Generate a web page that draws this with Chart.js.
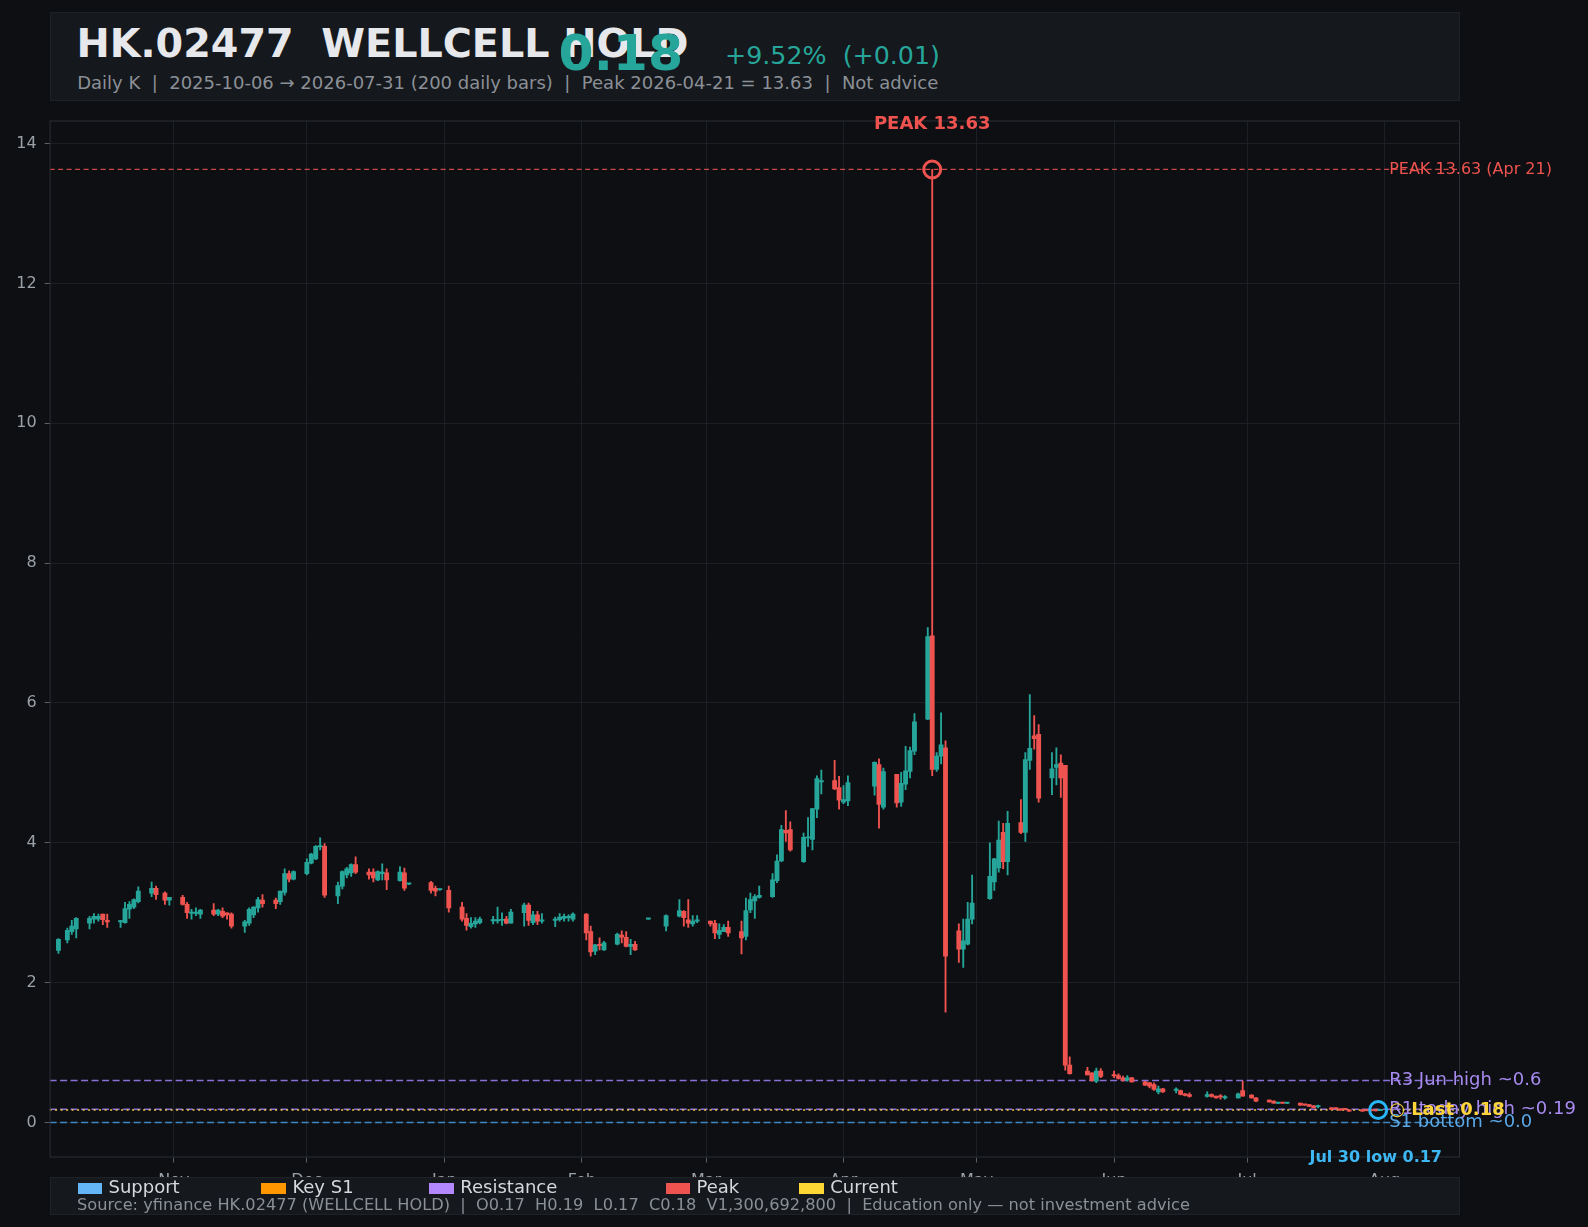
<!DOCTYPE html>
<html>
<head>
<meta charset="utf-8">
<script src="https://cdn.jsdelivr.net/npm/chart.js@4.4.1/dist/chart.umd.min.js"></script>
<style>
  html, body { margin:0; padding:0; background:#0d0f12; }
  body { width:1588px; height:1227px; position:relative; overflow:hidden; font-family:'DejaVu Sans', sans-serif; }
  #c { position:absolute; left:0; top:0; }
  .box { position:absolute; background:#15181c; border:1px solid #1f2328; box-sizing:border-box; }
  .t { position:absolute; white-space:pre; line-height:1; font-family:'DejaVu Sans', sans-serif; }
  .sw { position:absolute; width:24.5px; height:11px; }
</style>
</head>
<body>
<canvas id="c" width="1588" height="1227"></canvas>

<div class="box" style="left:49.6px; top:12.2px; width:1410.4px; height:89.1px;"></div>
<div class="t" style="left:76.5px; top:23.6px; font-size:39.7px; font-weight:bold; color:#e6e8eb;">HK.02477  WELLCELL HOLD</div>
<div class="t" style="left:558.5px; top:28.2px; font-size:50.5px; font-weight:bold; color:#26a69a;">0.18</div>
<div class="t" style="left:725px; top:43.4px; font-size:25.3px; color:#26a69a;">+9.52%  (+0.01)</div>
<div class="t" style="left:77.2px; top:74.1px; font-size:18px; color:#8b9097;">Daily K  |  2025-10-06 → 2026-07-31 (200 daily bars)  |  Peak 2026-04-21 = 13.63  |  Not advice</div>

<div class="box" style="left:49.6px; top:1177px; width:1410.4px; height:38px;"></div>
<div id="legend"></div>
<div class="t" style="left:77px; top:1197.4px; font-size:16.2px; color:#8b9097;">Source: yfinance HK.02477 (WELLCELL HOLD)  |  O0.17  H0.19  L0.17  C0.18  V1,300,692,800  |  Education only — not investment advice</div>

<script>
// ---------------- DATA ----------------
// trading days per month
const monthDays = [
  ["2025-10", [6,8,9,10,13,14,15,16,17,20,21,22,23,24,27,28,30,31]],
  ["2025-11", [3,4,5,6,7,10,11,12,13,14,17,18,19,20,21,24,25,26,27,28]],
  ["2025-12", [1,2,3,4,5,8,9,10,11,12,15,16,17,18,19,22,23,24,29,30,31]],
  ["2026-01", [2,5,6,7,8,9,12,13,14,15,16,19,20,21,22,23,26,27,28,29,30]],
  ["2026-02", [2,3,4,5,6,9,10,11,12,13,16,20,23,24,25,26,27]],
  ["2026-03", [2,3,4,5,6,9,10,11,12,13,16,17,18,19,20,23,24,25,26,27,30,31]],
  ["2026-04", [1,2,8,9,10,13,14,15,16,17,20,21,22,23,24,27,28,29,30]],
  ["2026-05", [4,5,6,7,8,11,12,13,14,15,18,19,20,21,22,26,27,28,29]],
  ["2026-06", [1,2,3,4,5,8,9,10,11,12,15,16,17,18,22,23,24,25,26,29,30]],
  ["2026-07", [2,3,6,7,8,9,10,13,14,15,16,17,20,21,22,23,24,27,28,29,30,31]]
];
const dates = monthDays.flatMap(([m, ds]) => ds.map(d => m + "-" + String(d).padStart(2, "0")));

const opens = [
  2.46,2.61,2.73,2.77,2.85,2.91,2.91,2.98,2.89,2.87,2.86,3.05,3.08,3.16,3.28,3.35,3.28,3.18,
  3.22,3.12,2.99,2.99,2.98,3.04,2.98,3.02,3.00,2.98,2.81,2.85,2.97,3.07,3.18,3.18,3.16,3.29,3.56,3.48,
  3.56,3.71,3.77,3.94,3.95,3.24,3.38,3.54,3.57,3.69,3.58,3.58,3.47,3.56,3.57,3.46,3.57,3.41,3.43,3.35,3.33,
  3.32,3.08,2.92,2.80,2.84,2.86,2.885,2.885,2.89,2.91,2.85,3.00,3.11,2.86,2.97,2.88,2.89,2.90,2.92,2.93,2.91,
  2.98,2.73,2.45,2.54,2.47,2.55,2.68,2.65,2.52,2.55,2.91,2.81,2.95,3.02,2.90,2.84,2.88,
  2.88,2.85,2.69,2.73,2.79,2.73,2.66,3.04,3.17,3.22,3.23,3.46,3.74,4.18,4.19,3.73,4.07,4.05,4.48,4.87,4.89,4.79,
  4.58,4.60,4.81,5.12,4.51,4.98,4.58,4.84,5.02,5.31,5.77,6.96,5.05,5.24,5.36,2.74,2.48,2.55,2.91,
  3.20,3.44,3.64,4.15,3.73,4.29,4.15,5.18,5.53,5.55,4.93,5.08,5.14,5.11,0.82,0.735,0.71,0.59,0.735,
  0.687,0.673,0.639,0.606,0.639,0.582,0.568,0.544,0.439,0.482,0.46,0.458,0.41,0.401,0.373,0.401,0.377,0.372,0.353,0.353,0.458,
  0.391,0.353,0.32,0.306,0.275,0.28,0.274,0.277,0.258,0.258,0.24,0.226,0.21,0.203,0.196,0.19,0.177,0.18,0.172,0.172,0.172,0.17
];
const highs = [
  2.63,2.78,2.89,2.93,2.95,2.99,2.98,2.98,2.98,2.89,3.15,3.16,3.20,3.37,3.44,3.38,3.30,3.22,
  3.25,3.15,3.05,3.07,3.05,3.13,3.05,3.07,3.00,3.00,2.89,3.07,3.09,3.22,3.26,3.21,3.31,3.63,3.60,3.60,
  3.77,3.85,3.96,4.07,3.99,3.44,3.60,3.65,3.70,3.80,3.63,3.63,3.60,3.70,3.63,3.66,3.64,3.42,3.45,3.38,3.34,
  3.38,3.15,2.99,2.93,2.93,2.94,2.95,3.08,3.00,2.95,3.05,3.14,3.14,3.02,3.02,2.99,2.94,2.99,2.98,2.97,3.00,
  2.99,2.81,2.55,2.64,2.59,2.71,2.74,2.73,2.62,2.59,2.92,2.97,3.19,3.03,3.19,2.96,2.96,
  2.88,2.89,2.84,2.83,2.88,2.88,3.21,3.28,3.26,3.38,3.56,3.83,4.25,4.46,4.30,4.14,4.36,4.49,4.96,5.04,5.18,4.95,
  4.82,4.96,5.16,5.20,5.07,4.98,5.01,5.38,5.37,5.85,7.08,13.63,5.29,5.86,5.46,2.84,2.91,3.15,3.54,
  4.00,3.78,4.31,4.28,4.45,4.62,5.29,6.12,5.82,5.69,5.29,5.36,5.26,5.11,0.94,0.79,0.71,0.78,0.77,
  0.735,0.696,0.663,0.673,0.645,0.59,0.575,0.568,0.52,0.49,0.496,0.465,0.415,0.425,0.439,0.41,0.38,0.401,0.387,0.42,0.592,
  0.40,0.356,0.325,0.31,0.285,0.285,0.282,0.28,0.262,0.26,0.245,0.248,0.215,0.206,0.2,0.193,0.18,0.185,0.178,0.175,0.175,0.19
];
const lows = [
  2.42,2.57,2.69,2.64,2.77,2.85,2.88,2.83,2.79,2.79,2.85,2.92,3.06,3.14,3.23,3.19,3.12,3.11,
  3.11,2.92,2.91,2.96,2.92,2.96,2.96,2.93,2.91,2.78,2.72,2.82,2.93,3.01,3.08,3.06,3.12,3.25,3.44,3.47,
  3.54,3.70,3.76,3.90,3.22,3.13,3.34,3.50,3.52,3.56,3.48,3.44,3.46,3.47,3.33,3.45,3.32,3.40,3.28,3.24,3.32,
  3.01,2.88,2.75,2.78,2.79,2.84,2.84,2.85,2.82,2.84,2.85,2.81,2.82,2.83,2.83,2.85,2.80,2.88,2.88,2.88,2.88,
  2.61,2.38,2.40,2.47,2.46,2.54,2.57,2.51,2.40,2.46,2.905,2.74,2.94,2.81,2.79,2.81,2.86,
  2.81,2.63,2.63,2.73,2.66,2.41,2.61,3.00,2.92,3.21,3.22,3.43,3.73,4.02,3.88,3.72,3.95,3.90,4.36,4.70,4.76,4.48,
  4.56,4.53,4.68,4.21,4.48,4.51,4.52,4.76,4.93,5.26,5.76,4.96,5.02,5.13,1.58,2.29,2.22,2.54,2.84,
  3.19,3.32,3.58,3.63,3.54,4.13,4.02,5.05,5.34,4.58,4.69,4.83,4.65,0.75,0.69,0.68,0.59,0.57,0.64,
  0.64,0.62,0.59,0.59,0.578,0.53,0.496,0.458,0.41,0.43,0.425,0.395,0.38,0.363,0.363,0.363,0.35,0.334,0.334,0.35,0.377,
  0.35,0.30,0.29,0.275,0.27,0.27,0.27,0.245,0.245,0.228,0.208,0.21,0.185,0.19,0.175,0.18,0.16,0.16,0.165,0.165,0.166,0.17
];
const closes = [
  2.62,2.75,2.81,2.92,2.92,2.95,2.95,2.90,2.87,2.88,3.06,3.12,3.19,3.31,3.35,3.26,3.18,3.22,
  3.12,3.00,3.01,3.01,3.04,2.98,3.04,2.95,2.97,2.81,2.87,3.05,3.08,3.19,3.13,3.13,3.31,3.56,3.48,3.59,
  3.72,3.84,3.95,3.96,3.25,3.39,3.59,3.63,3.69,3.58,3.54,3.50,3.59,3.58,3.47,3.58,3.35,3.415,3.32,3.31,3.34,
  3.07,2.91,2.82,2.85,2.88,2.91,2.895,2.895,2.90,2.85,3.01,3.11,2.89,2.97,2.88,2.89,2.91,2.94,2.95,2.94,2.98,
  2.71,2.44,2.54,2.53,2.57,2.69,2.65,2.52,2.55,2.47,2.915,2.96,3.03,2.93,2.85,2.88,2.90,
  2.84,2.71,2.75,2.79,2.71,2.64,3.03,3.19,3.23,3.25,3.47,3.74,4.19,4.14,3.90,4.08,4.08,4.49,4.92,4.89,4.77,4.61,
  4.62,4.86,5.15,4.55,5.02,4.57,4.85,5.03,5.32,5.73,6.95,5.05,5.24,5.40,2.38,2.48,2.60,2.91,3.14,
  3.52,3.77,4.04,3.73,4.28,4.15,5.19,5.35,5.49,4.64,5.06,5.12,4.93,0.82,0.70,0.68,0.60,0.735,0.66,
  0.668,0.63,0.606,0.639,0.582,0.534,0.52,0.472,0.482,0.439,0.465,0.401,0.387,0.373,0.401,0.373,0.353,0.366,0.368,0.41,0.377,
  0.353,0.306,0.296,0.277,0.282,0.276,0.279,0.248,0.25,0.23,0.21,0.232,0.187,0.197,0.177,0.185,0.163,0.163,0.168,0.168,0.166,0.18
];

// axis ticks
const monthTicks  = ["2025-11-01","2025-12-01","2026-01-01","2026-02-01","2026-03-01","2026-04-01","2026-05-01","2026-06-01","2026-07-01","2026-08-01"];
const monthLabels = ["Nov","Dec","Jan","Feb","Mar","Apr","May","Jun","Jul","Aug"];
const yTicks = [0, 2, 4, 6, 8, 10, 12, 14];

// horizontal levels
const levelValues = [13.63, 0.6, 0.19, 0.0, 0.18];
const levelLabels = ["PEAK 13.63 (Apr 21)", "R3 Jun high ~0.6", "R1 today high ~0.19", "S1 bottom ~0.0", "○ Last 0.18"];

// annotations
const peakLabel = "PEAK 13.63";
const lowNoteDate = "2026-07-30";
const lowNoteLabel = "Jul 30 low 0.17";

// legend
const legendNames = ["Support", "Key S1", "Resistance", "Peak", "Current"];

// ---------------- STYLES ----------------
const UP = '#26a69a', DOWN = '#ef5350';
const levelStyles = [
  { line: 'rgba(239,83,80,0.85)', w: 1.2, dash: [5, 3.5], text: '#ef5350', font: '16px "DejaVu Sans"' },
  { line: '#8a6fd8', w: 1.5, dash: [7, 3.5], text: '#a78bf0', font: '18px "DejaVu Sans"' },
  { line: '#8a6fd8', w: 1.5, dash: [7, 3.5], text: '#a78bf0', font: '18px "DejaVu Sans"' },
  { line: '#3f87c2', w: 1.5, dash: [7, 3.5], text: '#5aa8e6', font: '18px "DejaVu Sans"' },
  { line: '#f2c94c', w: 1.6, dash: [2, 3.5], text: '#fdd43a', font: 'bold 18px "DejaVu Sans"' }
];
const legendX = [77.5, 261.4, 429.3, 665.5, 799.3];
const legendColors = ['#64b5f6', '#ff9800', '#b388ff', '#ef5350', '#fdd835'];

// legend html
const lg = document.getElementById('legend');
legendNames.forEach((n, i) => {
  const sw = document.createElement('div');
  sw.className = 'sw';
  sw.style.left = legendX[i] + 'px'; sw.style.top = '1182.5px'; sw.style.background = legendColors[i];
  lg.appendChild(sw);
  const t = document.createElement('div');
  t.className = 't';
  t.style.left = (legendX[i] + 31) + 'px'; t.style.top = '1178.3px';
  t.style.fontSize = '18px'; t.style.color = '#d6d9dd';
  t.textContent = n;
  lg.appendChild(t);
});

// ---------------- CHART ----------------
const T0 = Date.UTC(2025, 10, 1);
function dayNum(s) {
  const [y, m, d] = s.split('-').map(Number);
  return (Date.UTC(y, m - 1, d) - T0) / 86400000;
}
const xs = dates.map(dayNum);
const colors = dates.map((_, i) => closes[i] >= opens[i] ? UP : DOWN);

Chart.defaults.font.family = "'DejaVu Sans', sans-serif";

const overlay = {
  id: 'overlay',
  beforeDatasetsDraw(chart) {
    const { ctx, chartArea: a, scales: { y } } = chart;
    ctx.save();
    ctx.beginPath();
    ctx.rect(a.left, a.top, a.right - a.left, a.bottom - a.top);
    ctx.clip();
    levelValues.forEach((v, i) => {
      const st = levelStyles[i];
      const py = y.getPixelForValue(v);
      ctx.strokeStyle = st.line; ctx.lineWidth = st.w; ctx.setLineDash(st.dash);
      ctx.beginPath(); ctx.moveTo(a.left, py); ctx.lineTo(a.right, py); ctx.stroke();
    });
    ctx.restore();
  },
  afterDatasetsDraw(chart) {
    const { ctx, chartArea: a, scales: { x, y } } = chart;
    ctx.save();
    ctx.setLineDash([]);
    // frame
    ctx.strokeStyle = '#2a2e34'; ctx.lineWidth = 1;
    ctx.strokeRect(a.left + 0.5, a.top + 0.5, a.right - a.left - 1, a.bottom - a.top - 1);

    // level labels
    const lastI = dates.length - 1;
    const labelX = x.getPixelForValue(xs[lastI]) + 9;
    ctx.textAlign = 'left'; ctx.textBaseline = 'middle';
    levelLabels.forEach((t, i) => {
      const st = levelStyles[i];
      ctx.font = st.font; ctx.fillStyle = st.text;
      ctx.fillText(t, labelX, y.getPixelForValue(levelValues[i]));
    });

    // peak marker
    let pk = 0;
    highs.forEach((h, i) => { if (h > highs[pk]) pk = i; });
    const px = x.getPixelForValue(xs[pk]), py = y.getPixelForValue(highs[pk]);
    ctx.strokeStyle = '#ef5350'; ctx.lineWidth = 3;
    ctx.beginPath(); ctx.arc(px, py, 8.5, 0, Math.PI * 2); ctx.stroke();
    ctx.font = 'bold 18px "DejaVu Sans"'; ctx.fillStyle = '#ef5350'; ctx.textAlign = 'center';
    ctx.fillText(peakLabel, px, py - 45);

    // last marker
    const lx = x.getPixelForValue(xs[lastI]), ly = y.getPixelForValue(closes[lastI]);
    ctx.strokeStyle = '#29b6f6'; ctx.lineWidth = 3;
    ctx.beginPath(); ctx.arc(lx - 2, ly, 8.5, 0, Math.PI * 2); ctx.stroke();

    // low note
    const li = dates.indexOf(lowNoteDate);
    ctx.font = 'bold 16px "DejaVu Sans"'; ctx.fillStyle = '#3db8f5'; ctx.textAlign = 'center';
    ctx.fillText(lowNoteLabel, x.getPixelForValue(xs[li]), y.getPixelForValue(lows[li]) + 47);
    ctx.restore();
  }
};

new Chart(document.getElementById('c'), {
  type: 'bar',
  data: {
    datasets: [
      {
        label: 'wick',
        data: xs.map((d, i) => ({ x: d, y: [lows[i], highs[i]] })),
        backgroundColor: colors,
        barThickness: 1.2,
        grouped: false,
        order: 2
      },
      {
        label: 'body',
        data: xs.map((d, i) => ({ x: d, y: [opens[i], closes[i]] })),
        backgroundColor: colors,
        barThickness: 4.2,
        minBarLength: 1.2,
        grouped: false,
        order: 1
      }
    ]
  },
  options: {
    responsive: false,
    devicePixelRatio: 1,
    animation: false,
    layout: { padding: { left: 0, right: 128, top: 120.5, bottom: 0 } },
    plugins: { legend: { display: false }, tooltip: { enabled: false } },
    scales: {
      x: {
        type: 'linear',
        min: dayNum("2025-10-04"),
        max: dayNum("2026-08-18"),
        offset: false,
        afterBuildTicks: s => { s.ticks = monthTicks.map(m => ({ value: dayNum(m) })); },
        afterFit: s => { s.height = 69.5; },
        border: { display: false },
        grid: { color: '#1c1f24', offset: false, tickLength: 5, tickColor: '#5b6067' },
        ticks: {
          color: '#9aa0a7', font: { size: 16 }, padding: 9, autoSkip: false, maxRotation: 0,
          callback: v => { const k = monthTicks.findIndex(m => dayNum(m) === v); return k >= 0 ? monthLabels[k] : ''; }
        }
      },
      y: {
        type: 'linear',
        min: -0.5,
        max: 14.33,
        afterBuildTicks: s => { s.ticks = yTicks.map(v => ({ value: v })); },
        afterFit: s => { s.width = 49.6; },
        border: { display: false },
        grid: { color: '#1c1f24', tickLength: 5, tickColor: '#5b6067' },
        ticks: { color: '#9aa0a7', font: { size: 16 }, padding: 8, callback: v => String(v) }
      }
    }
  },
  plugins: [overlay]
});
</script>
</body>
</html>
